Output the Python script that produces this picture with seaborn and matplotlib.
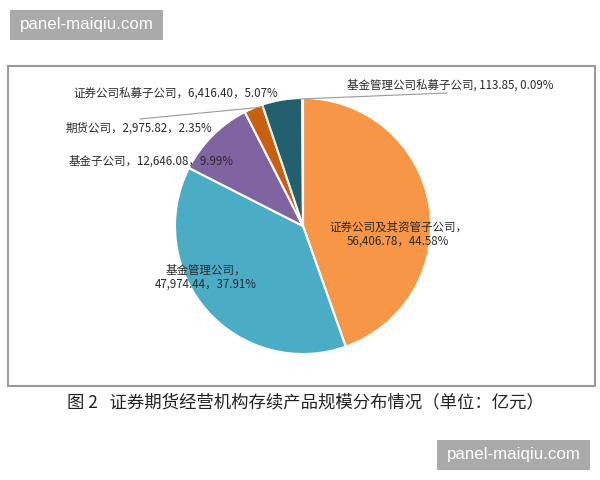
import numpy as np
import matplotlib
matplotlib.use("Agg")
import matplotlib.pyplot as plt
import seaborn as sns
from matplotlib.patches import Rectangle

# 数据（单位：亿元）
names = ["证券公司及其资管子公司", "基金管理公司", "基金子公司", "期货公司",
         "证券公司私募子公司", "基金管理公司私募子公司"]
values = [56406.78, 47974.44, 12646.08, 2975.82, 6416.40, 113.85]
shares = ["44.58%", "37.91%", "9.99%", "2.35%", "5.07%", "0.09%"]
colors = ["#F79646", "#4BACC6", "#8064A2", "#C8600F", "#22606F", "#9BBB59"]

caption = "图 2   证券期货经营机构存续产品规模分布情况（单位：亿元）"
watermark = "panel-maiqiu.com"

sns.set_theme(style="white")
plt.rcParams["font.family"] = ["Noto Sans CJK SC", "DejaVu Sans"]

W, H = 600, 480
fig = plt.figure(figsize=(6, 4.8), dpi=100)
ax = fig.add_axes([0, 0, 1, 1])

def Y(py):
    return H - py

# 外框
ax.add_patch(Rectangle((8, Y(386)), 587, 320, fill=False, ec="#9a9a9a", lw=1.5))

# 饼图
ax.pie(values, colors=colors, startangle=90, counterclock=False,
       center=(303, Y(226)), radius=128,
       wedgeprops=dict(edgecolor="white", linewidth=1.5))
ax.set_xlim(0, W)
ax.set_ylim(0, H)
ax.set_aspect("equal")
ax.axis("off")

def fmt(i, sep="，"):
    return f"{values[i]:,.2f}{sep}{shares[i]}"

tc = "#2a2a2a"
fs = 8.3
kw = dict(ha="center", va="center", fontsize=fs, color=tc, fontweight="medium")
ax.text(398, Y(234), names[0] + "，\n" + fmt(0), linespacing=1.15, **kw)
ax.text(206, Y(277), names[1] + "，\n" + fmt(1), linespacing=1.15, **kw)
ax.text(151, Y(161), names[2] + "，" + fmt(2), **kw)
ax.text(139, Y(128), names[3] + "，" + fmt(3), **kw)
ax.text(176, Y(93), names[4] + "，" + fmt(4), **kw)
ax.text(450, Y(85), names[5] + ", " + fmt(5, ", "), **kw)

# 引导线
ax.plot([140, 263], [Y(119), Y(107)], color="#999999", lw=0.8)
ax.plot([300, 447], [Y(99), Y(93)], color="#999999", lw=0.8)

# 图注
ax.text(305, Y(402), caption, ha="center", va="center", fontsize=12.5, color="#222222")

# 水印
for x0, y0 in [(10, 10), (437, 440)]:
    ax.add_patch(Rectangle((x0, Y(y0 + 30)), 153, 30, fc="#aaaaaa", ec="none"))
    ax.text(x0 + 76.5, Y(y0 + 15), watermark, ha="center", va="center",
            fontsize=12.2, color="white", family="Liberation Sans")

fig.savefig("out.png", dpi=100)
